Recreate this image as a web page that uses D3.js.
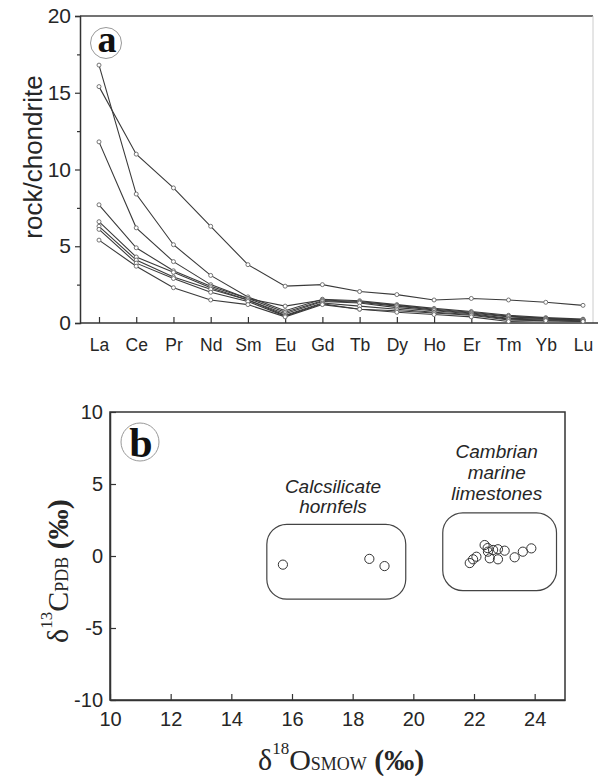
<!DOCTYPE html>
<html>
<head>
<meta charset="utf-8">
<script src="https://cdn.jsdelivr.net/npm/d3@7/dist/d3.min.js"></script>
<style>
  html, body { margin: 0; padding: 0; background: #fff; }
  svg { display: block; }
</style>
</head>
<body>
<svg id="fig" width="598" height="776"></svg>
<script>
// ---------- Panel a: chondrite-normalised REE patterns ----------
const elements = ["La","Ce","Pr","Nd","Sm","Eu","Gd","Tb","Dy","Ho","Er","Tm","Yb","Lu"];
const sample1 = [15.4, 11.0, 8.8, 6.3, 3.8, 2.4, 2.5, 2.05, 1.85, 1.5, 1.6, 1.5, 1.35, 1.15];
const sample2 = [16.8, 8.4, 5.1, 3.1, 1.7, 0.8, 1.55, 1.45, 1.2, 0.95, 0.75, 0.5, 0.35, 0.25];
const sample3 = [11.8, 6.2, 4.0, 2.5, 1.6, 1.1, 1.5, 1.4, 1.15, 0.9, 0.7, 0.45, 0.3, 0.2];
const sample4 = [7.7, 4.9, 3.4, 2.4, 1.6, 0.7, 1.45, 1.35, 1.1, 0.85, 0.65, 0.4, 0.3, 0.2];
const sample5 = [6.6, 4.3, 3.3, 2.3, 1.5, 0.6, 1.4, 1.3, 1.0, 0.8, 0.6, 0.3, 0.25, 0.2];
const sample6 = [6.3, 4.1, 3.0, 2.2, 1.5, 0.5, 1.3, 1.1, 0.9, 0.7, 0.55, 0.25, 0.2, 0.15];
const sample7 = [6.1, 3.9, 2.9, 2.0, 1.4, 0.45, 1.25, 0.9, 0.8, 0.65, 0.5, 0.2, 0.15, 0.1];
const sample8 = [5.4, 3.7, 2.3, 1.5, 1.2, 0.4, 1.2, 0.9, 0.7, 0.55, 0.4, 0.1, 0.15, 0.1];
const reeSamples = [sample1, sample2, sample3, sample4, sample5, sample6, sample7, sample8];
const reeTicks = [0, 5, 10, 15, 20];
const reeMinorTicks = [2.5, 7.5, 12.5, 17.5];

// ---------- Panel b: carbon vs oxygen isotopes ----------
const hornfelsO = [15.7, 18.55, 19.05];
const hornfelsC = [-0.6, -0.2, -0.7];
const limestoneO = [22.35, 22.45, 21.86, 21.97, 22.08, 22.46, 22.63, 22.79, 23.01, 22.52, 22.79, 23.34, 23.61, 23.89];
const limestoneC = [0.76, 0.55, -0.49, -0.23, -0.05, 0.30, 0.42, 0.47, 0.37, -0.16, -0.23, -0.09, 0.30, 0.53];
const isoXTicks = [10, 12, 14, 16, 18, 20, 22, 24];
const isoYTicks = [-10, -5, 0, 5, 10];
// group envelopes [xMin, xMax, yMin, yMax] in per-mil
const hornfelsField = [15.17, 19.75, -3.0, 2.2];
const limestoneField = [20.97, 24.72, -2.4, 3.0];
const hornfelsLabel = ["Calcsilicate", "hornfels"];
const limestoneLabel = ["Cambrian", "marine", "limestones"];

const svg = d3.select("#fig");
const sans = "'Liberation Sans', Arial, Helvetica, sans-serif";
const serif = "'Liberation Serif', 'Times New Roman', Times, serif";
const ink = "#262626";
const plain = d => String(d);   // keeps an ASCII hyphen for negatives

// ===== Panel a =====
const a = { left: 80, right: 593, top: 16, bottom: 323 };
const xA = d3.scalePoint().domain(elements).range([99, 583]);
const yA = d3.scaleLinear().domain([0, 20]).range([a.bottom, a.top]);
const gA = svg.append("g");

// frame
gA.append("line").attr("x1", a.left).attr("x2", a.right).attr("y1", a.top).attr("y2", a.top)
  .attr("stroke", "#444").attr("stroke-width", 1.3);
gA.append("line").attr("x1", a.right).attr("x2", a.right).attr("y1", a.top).attr("y2", a.bottom)
  .attr("stroke", "#ccc").attr("stroke-width", 1);

// y axis, ticks outward
const yAxisA = gA.append("g").attr("transform", `translate(${a.left},0)`)
  .call(d3.axisLeft(yA).tickValues(reeTicks).tickSize(5).tickPadding(4).tickFormat(plain));
gA.append("g").attr("transform", `translate(${a.left},0)`)
  .call(d3.axisLeft(yA).tickValues(reeMinorTicks).tickSize(3).tickFormat(""))
  .call(g => g.select(".domain").remove());
// x axis, ticks inward
const xAxisA = gA.append("g").attr("transform", `translate(0,${a.bottom})`)
  .call(d3.axisBottom(xA).tickSizeInner(-6).tickSizeOuter(0).tickPadding(15));
xAxisA.select(".domain").attr("d", `M${a.left},0H598`);
[yAxisA, xAxisA].forEach(g => {
  g.selectAll("text").attr("font-family", sans).attr("fill", ink);
});
yAxisA.selectAll("text").attr("font-size", 21);
xAxisA.selectAll("text").attr("font-size", 17.5).attr("dy", "0.72em");
gA.selectAll(".domain").attr("stroke", "#333").attr("stroke-width", 1.5);
gA.selectAll(".tick line").attr("stroke", "#333").attr("stroke-width", 1.2);

// axis title
gA.append("text")
  .attr("transform", `translate(42,157) rotate(-90)`)
  .attr("text-anchor", "middle")
  .attr("font-family", sans).attr("font-size", 26).attr("fill", ink)
  .text("rock/chondrite");

// patterns
const lineA = d3.line().x((d, i) => xA(elements[i])).y(d => yA(d));
gA.append("g").selectAll("path").data(reeSamples).join("path")
  .attr("d", lineA).attr("fill", "none").attr("stroke", "#3a3a3a").attr("stroke-width", 1.1);
gA.append("g").selectAll("g").data(reeSamples).join("g")
  .selectAll("circle").data(d => d).join("circle")
  .attr("cx", (d, i) => xA(elements[i])).attr("cy", d => yA(d)).attr("r", 2)
  .attr("fill", "#fff").attr("stroke", "#666").attr("stroke-width", 0.9);

// panel letter
gA.append("circle").attr("cx", 106).attr("cy", 43).attr("r", 15.5)
  .attr("fill", "#fff").attr("stroke", "#999").attr("stroke-width", 1);
gA.append("text").attr("x", 107).attr("y", 52).attr("text-anchor", "middle")
  .attr("font-family", serif).attr("font-weight", "bold").attr("font-size", 38).attr("fill", "#111")
  .text("a");

// ===== Panel b =====
const b = { left: 110, right: 565, top: 412, bottom: 700 };
const xB = d3.scaleLinear().domain([10, 25]).range([b.left, b.right]);
const yB = d3.scaleLinear().domain([-10, 10]).range([b.bottom, b.top]);
const gB = svg.append("g");

gB.append("rect").attr("x", b.left).attr("y", b.top)
  .attr("width", b.right - b.left).attr("height", b.bottom - b.top)
  .attr("fill", "none").attr("stroke", "#333").attr("stroke-width", 1.5);

const xAxisB = gB.append("g").attr("transform", `translate(0,${b.bottom})`)
  .call(d3.axisBottom(xB).tickValues(isoXTicks).tickSizeInner(-6).tickSizeOuter(0).tickPadding(14).tickFormat(plain));
const yAxisB = gB.append("g").attr("transform", `translate(${b.left},0)`)
  .call(d3.axisLeft(yB).tickValues(isoYTicks).tickSizeInner(-6).tickSizeOuter(0).tickPadding(7).tickFormat(plain));
[xAxisB, yAxisB].forEach(g => {
  g.select(".domain").attr("stroke", "#333").attr("stroke-width", 1.5);
  g.selectAll(".tick line").attr("stroke", "#333").attr("stroke-width", 1.2);
  g.selectAll("text").attr("font-family", sans).attr("font-size", 20).attr("fill", ink);
});
xAxisB.selectAll("text").attr("dy", "0.6em");

// group envelopes
[hornfelsField, limestoneField].forEach(f => {
  gB.append("rect")
    .attr("x", xB(f[0])).attr("y", yB(f[3]))
    .attr("width", xB(f[1]) - xB(f[0])).attr("height", yB(f[2]) - yB(f[3]))
    .attr("rx", 20).attr("ry", 20)
    .attr("fill", "none").attr("stroke", "#444").attr("stroke-width", 1.2);
});

// group labels
function groupLabel(lines, xc, yFirst, step) {
  gB.append("g").selectAll("text").data(lines).join("text")
    .attr("x", xB(xc)).attr("y", (d, i) => yB(yFirst) + i * step)
    .attr("text-anchor", "middle")
    .attr("font-family", sans).attr("font-style", "italic").attr("font-size", 19).attr("fill", ink)
    .text(d => d);
}
groupLabel(hornfelsLabel, 17.35, 4.4, 20.5);
groupLabel(limestoneLabel, 22.75, 6.8, 21);

// samples
gB.append("g").selectAll("circle").data(hornfelsO).join("circle")
  .attr("cx", d => xB(d)).attr("cy", (d, i) => yB(hornfelsC[i])).attr("r", 4.6)
  .attr("fill", "none").attr("stroke", "#333").attr("stroke-width", 1);
gB.append("g").selectAll("circle").data(limestoneO).join("circle")
  .attr("cx", d => xB(d)).attr("cy", (d, i) => yB(limestoneC[i])).attr("r", 4.6)
  .attr("fill", "none").attr("stroke", "#333").attr("stroke-width", 1);

// panel letter
gB.append("circle").attr("cx", 140).attr("cy", 442).attr("r", 19)
  .attr("fill", "#fff").attr("stroke", "#999").attr("stroke-width", 1);
gB.append("text").attr("x", 141).attr("y", 457).attr("text-anchor", "middle")
  .attr("font-family", serif).attr("font-weight", "bold").attr("font-size", 42).attr("fill", "#111")
  .text("b");

// isotope axis titles
function isoTitle(sel, sup, main, sub) {
  sel.attr("font-family", serif).attr("fill", ink);
  sel.append("tspan").attr("font-size", 30).text("δ");
  sel.append("tspan").attr("font-size", 17).attr("dy", -16).text(sup);
  sel.append("tspan").attr("font-size", 30).attr("dy", 16).text(main);
  sel.append("tspan").attr("font-size", 18).text(sub);
  sel.append("tspan").attr("font-size", 30).attr("font-weight", "bold").text(" (‰)");
}
isoTitle(svg.append("text").attr("x", 258).attr("y", 770), "18", "O", "SMOW");
isoTitle(svg.append("text").attr("transform", "translate(68,643) rotate(-90)"), "13", "C", "PDB");
</script>
</body>
</html>
